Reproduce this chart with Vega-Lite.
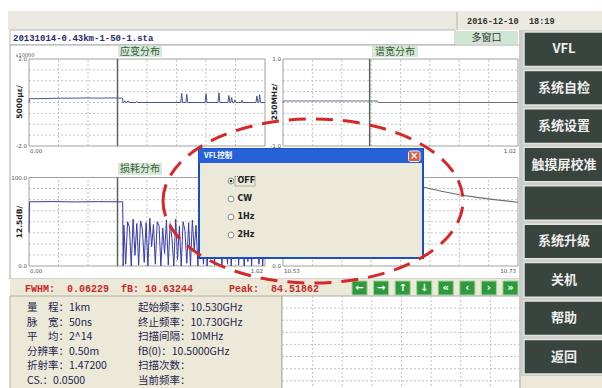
{
"$schema":"https://vega.github.io/schema/vega-lite/v6.json",
"width":602,"height":388,"padding":0,"autosize":{"type":"none"},
"background":"#FFFFFF",
"config":{"view":{"stroke":null},"axis":{"disable":true},"legend":{"disable":true}},
"resolve":{"scale":{"x":"independent","y":"independent"}},
"data":{"values":[{"element":"screen"}]},
"datasets":{
"strain":[{"km":0,"strain":0},{"km":0.002,"strain":0.17},{"km":0.05,"strain":0.18},{"km":0.1,"strain":0.19},{"km":0.15,"strain":0.2},{"km":0.2,"strain":0.2},{"km":0.25,"strain":0.21},{"km":0.3,"strain":0.2},{"km":0.35,"strain":0.21},{"km":0.404,"strain":0.2},{"km":0.406,"strain":0},
{"km":0.41,"strain":0},{"km":0.414,"strain":0.08},{"km":0.418,"strain":0},{"km":0.424,"strain":0},{"km":0.428,"strain":0.08},{"km":0.432,"strain":0},{"km":0.462,"strain":0},{"km":0.466,"strain":0.05},{"km":0.47,"strain":0},
{"km":0.656,"strain":0},{"km":0.66,"strain":0.42},{"km":0.664,"strain":0},{"km":0.678,"strain":0},{"km":0.682,"strain":0.38},{"km":0.686,"strain":0},
{"km":0.761,"strain":0},{"km":0.765,"strain":0.4},{"km":0.769,"strain":0},{"km":0.817,"strain":0},{"km":0.821,"strain":0.45},{"km":0.825,"strain":0},
{"km":0.86,"strain":0},{"km":0.864,"strain":0.32},{"km":0.868,"strain":0},{"km":0.872,"strain":0},{"km":0.876,"strain":0.22},{"km":0.88,"strain":0},{"km":0.886,"strain":0},{"km":0.89,"strain":0.12},{"km":0.894,"strain":0},
{"km":0.917,"strain":0},{"km":0.921,"strain":0.1},{"km":0.925,"strain":0},{"km":0.981,"strain":0},{"km":0.985,"strain":0.3},{"km":0.989,"strain":0},{"km":0.993,"strain":0},{"km":0.997,"strain":0.36},{"km":1.001,"strain":0},{"km":1.02,"strain":0}],
"spectralWidth":[{"km":0,"width":0},{"km":0.002,"width":0.035},{"km":0.41,"width":0.035},{"km":0.413,"width":0},{"km":1.02,"width":0}],
"loss":[{"km":0,"loss":38},{"km":0.002,"loss":72.5},{"km":0.1,"loss":72.8},{"km":0.2,"loss":72.4},{"km":0.3,"loss":72.7},{"km":0.405,"loss":72.5},{"km":0.407,"loss":0},
{"km":0.41,"loss":46},{"km":0.418,"loss":2},{"km":0.426,"loss":50},{"km":0.434,"loss":44},{"km":0.442,"loss":0},{"km":0.45,"loss":53},{"km":0.458,"loss":12},{"km":0.466,"loss":48},{"km":0.474,"loss":1},{"km":0.482,"loss":51},{"km":0.49,"loss":42},{"km":0.498,"loss":4},{"km":0.506,"loss":49},{"km":0.514,"loss":0},{"km":0.522,"loss":54},{"km":0.53,"loss":22},{"km":0.538,"loss":47},{"km":0.546,"loss":2},{"km":0.554,"loss":50},{"km":0.562,"loss":46},{"km":0.57,"loss":0},{"km":0.578,"loss":43},{"km":0.586,"loss":14},{"km":0.594,"loss":52},{"km":0.602,"loss":1},{"km":0.61,"loss":48},{"km":0.618,"loss":31},{"km":0.626,"loss":0},{"km":0.634,"loss":53},{"km":0.642,"loss":7},{"km":0.65,"loss":45},{"km":0.658,"loss":0},{"km":0.666,"loss":50},{"km":0.674,"loss":40},{"km":0.682,"loss":3},{"km":0.69,"loss":49},{"km":0.698,"loss":0},{"km":0.706,"loss":52},{"km":0.714,"loss":18},{"km":0.722,"loss":46},{"km":0.73,"loss":0},{"km":0.738,"loss":51},{"km":0.746,"loss":44},{"km":0.754,"loss":2},{"km":0.762,"loss":48},{"km":0.77,"loss":0},{"km":0.778,"loss":50},{"km":0.786,"loss":26},{"km":0.794,"loss":45},{"km":0.802,"loss":1},{"km":0.81,"loss":52},{"km":0.818,"loss":9},{"km":0.826,"loss":47},{"km":0.834,"loss":0},{"km":0.842,"loss":49},{"km":0.85,"loss":41},{"km":0.858,"loss":2},{"km":0.866,"loss":51},{"km":0.874,"loss":0},{"km":0.882,"loss":46},{"km":0.89,"loss":15},{"km":0.898,"loss":50},{"km":0.906,"loss":1},{"km":0.914,"loss":44},{"km":0.922,"loss":37},{"km":0.93,"loss":0},{"km":0.938,"loss":48},{"km":0.946,"loss":5},{"km":0.954,"loss":52},{"km":0.962,"loss":0},{"km":0.97,"loss":45},{"km":0.978,"loss":20},{"km":0.986,"loss":49},{"km":0.994,"loss":2},{"km":1.002,"loss":47},{"km":1.01,"loss":0},{"km":1.018,"loss":43}],
"spectrum":[{"ghz":10.53,"power":55},{"ghz":10.55,"power":68},{"ghz":10.57,"power":80},{"ghz":10.59,"power":90},{"ghz":10.61,"power":95},{"ghz":10.625,"power":96},{"ghz":10.64,"power":92},{"ghz":10.65,"power":89},{"ghz":10.665,"power":84.5},{"ghz":10.68,"power":80.5},{"ghz":10.695,"power":77.5},{"ghz":10.71,"power":75},{"ghz":10.73,"power":72}],
"div":[{"d":1},{"d":2},{"d":3},{"d":4},{"d":5},{"d":6},{"d":7}],
"buttons":[{"label":"VFL"},{"label":"系统自检"},{"label":"系统设置"},{"label":"触摸屏校准"},{"label":" "},{"label":"系统升级"},{"label":"关机"},{"label":"帮助"},{"label":"返回"}],
"nav":[{"b":"←"},{"b":"→"},{"b":"↑"},{"b":"↓"},{"b":"«"},{"b":"‹"},{"b":"›"},{"b":"»"}],
"params":[{"l":"量　程：1km","r":"起始频率：10.530GHz"},{"l":"脉　宽：50ns","r":"终止频率：10.730GHz"},{"l":"平　均：2^14","r":"扫描间隔：10MHz"},{"l":"分辨率：0.50m","r":"fB(0)：10.5000GHz"},{"l":"折射率：1.47200","r":"扫描次数："},{"l":"CS.：0.0500","r":"当前频率："}],
"vfl":[{"opt":"OFF","on":true},{"opt":"CW","on":false},{"opt":"1Hz","on":false},{"opt":"2Hz","on":false}]
},
"layer":[
{"mark":{"type":"rect","fill":"#ECEAE0"},"encoding":{"x":{"datum":8,"scale":{"domain":[0,602],"range":[0,602],"nice":false,"zero":false}},"x2":{"datum":602},"y":{"datum":11,"scale":{"domain":[0,388],"range":[0,388],"nice":false,"zero":false}},"y2":{"datum":30}}},
{"mark":{"type":"rule","stroke":"#B4B2A8"},"encoding":{"x":{"datum":457,"scale":{"domain":[0,602],"range":[0,602],"nice":false,"zero":false}},"y":{"datum":12,"scale":{"domain":[0,388],"range":[0,388],"nice":false,"zero":false}},"y2":{"datum":30}}},
{"data":{"values":[{"t":"2016-12-10\u00a0\u00a018:19"}]},"mark":{"type":"text","align":"left","baseline":"middle","font":"Liberation Mono","fontSize":8.6,"fontWeight":"bold","fill":"#303030"},"encoding":{"x":{"datum":467,"scale":{"domain":[0,602],"range":[0,602],"nice":false,"zero":false}},"y":{"datum":21,"scale":{"domain":[0,388],"range":[0,388],"nice":false,"zero":false}},"text":{"field":"t"}}},
{"mark":{"type":"rect","fill":"#FFFFFF","stroke":"#B8B8B8"},"encoding":{"x":{"datum":10,"scale":{"domain":[0,602],"range":[0,602],"nice":false,"zero":false}},"x2":{"datum":455},"y":{"datum":30,"scale":{"domain":[0,388],"range":[0,388],"nice":false,"zero":false}},"y2":{"datum":45}}},
{"data":{"values":[{"t":"20131014-0.43km-1-50-1.sta"}]},"mark":{"type":"text","align":"left","baseline":"middle","font":"Liberation Mono","fontSize":9,"fontWeight":"bold","fill":"#2A2A6A"},"encoding":{"x":{"datum":13,"scale":{"domain":[0,602],"range":[0,602],"nice":false,"zero":false}},"y":{"datum":37.5,"scale":{"domain":[0,388],"range":[0,388],"nice":false,"zero":false}},"text":{"field":"t"}}},
{"mark":{"type":"rect","fill":"#CFE6D5"},"encoding":{"x":{"datum":455,"scale":{"domain":[0,602],"range":[0,602],"nice":false,"zero":false}},"x2":{"datum":518},"y":{"datum":31,"scale":{"domain":[0,388],"range":[0,388],"nice":false,"zero":false}},"y2":{"datum":44}}},
{"data":{"values":[{"t":"多窗口"}]},"mark":{"type":"text","align":"center","baseline":"middle","font":"Noto Sans CJK SC","fontSize":10,"fill":"#333333"},"encoding":{"x":{"datum":486.5,"scale":{"domain":[0,602],"range":[0,602],"nice":false,"zero":false}},"y":{"datum":37.5,"scale":{"domain":[0,388],"range":[0,388],"nice":false,"zero":false}},"text":{"field":"t"}}},
{"mark":{"type":"rect","fill":"#FFFFFF","stroke":"#A8A8A8"},"encoding":{"x":{"datum":10,"scale":{"domain":[0,602],"range":[0,602],"nice":false,"zero":false}},"x2":{"datum":520},"y":{"datum":45,"scale":{"domain":[0,388],"range":[0,388],"nice":false,"zero":false}},"y2":{"datum":279}}},

{"mark":{"type":"rect","fill":"#D5EAD7"},"encoding":{"x":{"datum":118,"scale":{"domain":[0,602],"range":[0,602],"nice":false,"zero":false}},"x2":{"datum":162},"y":{"datum":46,"scale":{"domain":[0,388],"range":[0,388],"nice":false,"zero":false}},"y2":{"datum":57}}},
{"data":{"values":[{"t":"应变分布"}]},"mark":{"type":"text","align":"center","baseline":"middle","font":"Noto Sans CJK SC","fontSize":10,"fill":"#3A5A3A"},"encoding":{"x":{"datum":140,"scale":{"domain":[0,602],"range":[0,602],"nice":false,"zero":false}},"y":{"datum":51.5,"scale":{"domain":[0,388],"range":[0,388],"nice":false,"zero":false}},"text":{"field":"t"}}},
{"mark":{"type":"rect","fill":"#D5EAD7"},"encoding":{"x":{"datum":372,"scale":{"domain":[0,602],"range":[0,602],"nice":false,"zero":false}},"x2":{"datum":418},"y":{"datum":46,"scale":{"domain":[0,388],"range":[0,388],"nice":false,"zero":false}},"y2":{"datum":57}}},
{"data":{"values":[{"t":"谱宽分布"}]},"mark":{"type":"text","align":"center","baseline":"middle","font":"Noto Sans CJK SC","fontSize":10,"fill":"#3A5A3A"},"encoding":{"x":{"datum":395,"scale":{"domain":[0,602],"range":[0,602],"nice":false,"zero":false}},"y":{"datum":51.5,"scale":{"domain":[0,388],"range":[0,388],"nice":false,"zero":false}},"text":{"field":"t"}}},
{"mark":{"type":"rect","fill":"#D5EAD7"},"encoding":{"x":{"datum":118,"scale":{"domain":[0,602],"range":[0,602],"nice":false,"zero":false}},"x2":{"datum":162},"y":{"datum":163,"scale":{"domain":[0,388],"range":[0,388],"nice":false,"zero":false}},"y2":{"datum":175}}},
{"data":{"values":[{"t":"损耗分布"}]},"mark":{"type":"text","align":"center","baseline":"middle","font":"Noto Sans CJK SC","fontSize":10,"fill":"#3A5A3A"},"encoding":{"x":{"datum":140,"scale":{"domain":[0,602],"range":[0,602],"nice":false,"zero":false}},"y":{"datum":169,"scale":{"domain":[0,388],"range":[0,388],"nice":false,"zero":false}},"text":{"field":"t"}}},

{"data":{"name":"div"},"mark":{"type":"rule","stroke":"#C4C4C4","strokeDash":[2,2]},"encoding":{"x":{"field":"d","type":"quantitative","scale":{"domain":[0,8],"range":[29,265],"nice":false,"zero":false}},"y":{"datum":0,"scale":{"domain":[0,8],"range":[146,59],"nice":false,"zero":false}},"y2":{"datum":8}}},
{"data":{"name":"div"},"mark":{"type":"rule","stroke":"#C4C4C4","strokeDash":[2,2]},"encoding":{"y":{"field":"d","type":"quantitative","scale":{"domain":[0,8],"range":[146,59],"nice":false,"zero":false}},"x":{"datum":0,"scale":{"domain":[0,8],"range":[29,265],"nice":false,"zero":false}},"x2":{"datum":8}}},
{"mark":{"type":"rect","fillOpacity":0,"stroke":"#A0A0A0"},"encoding":{"x":{"datum":0,"scale":{"domain":[0,8],"range":[29,265],"nice":false,"zero":false}},"x2":{"datum":8},"y":{"datum":0,"scale":{"domain":[0,8],"range":[146,59],"nice":false,"zero":false}},"y2":{"datum":8}}},
{"mark":{"type":"rule","stroke":"#5A665A","strokeWidth":1.5},"encoding":{"x":{"datum":3,"scale":{"domain":[0,8],"range":[29,265],"nice":false,"zero":false}},"y":{"datum":0,"scale":{"domain":[0,8],"range":[146,59],"nice":false,"zero":false}},"y2":{"datum":8}}},
{"data":{"name":"strain"},"mark":{"type":"line","stroke":"#4A5590","strokeWidth":1},"encoding":{"x":{"field":"km","type":"quantitative","scale":{"domain":[0,1.02],"range":[29,265],"nice":false,"zero":false}},"y":{"field":"strain","type":"quantitative","scale":{"domain":[-2,2],"range":[146,59],"nice":false,"zero":false}}}},
{"data":{"values":[{"v":2,"t":"2.0"},{"v":-2,"t":"-2.0"}]},"mark":{"type":"text","align":"right","baseline":"middle","dx":-2,"font":"DejaVu Sans","fontSize":5.5,"fill":"#505050"},"encoding":{"x":{"datum":0,"scale":{"domain":[0,1.02],"range":[29,265],"nice":false,"zero":false}},"y":{"field":"v","type":"quantitative","scale":{"domain":[-2,2],"range":[146,59],"nice":false,"zero":false}},"text":{"field":"t"}}},
{"data":{"values":[{"km":0,"t":"0.00"}]},"mark":{"type":"text","align":"left","baseline":"top","dx":1,"dy":3,"font":"DejaVu Sans","fontSize":5.5,"fill":"#505050"},"encoding":{"x":{"field":"km","type":"quantitative","scale":{"domain":[0,1.02],"range":[29,265],"nice":false,"zero":false}},"y":{"datum":-2,"scale":{"domain":[-2,2],"range":[146,59],"nice":false,"zero":false}},"text":{"field":"t"}}},
{"data":{"values":[{"km":1.02,"t":"1.02"}]},"mark":{"type":"text","align":"right","baseline":"top","dx":-2,"dy":3,"font":"DejaVu Sans","fontSize":5.5,"fill":"#505050"},"encoding":{"x":{"field":"km","type":"quantitative","scale":{"domain":[0,1.02],"range":[29,265],"nice":false,"zero":false}},"y":{"datum":-2,"scale":{"domain":[-2,2],"range":[146,59],"nice":false,"zero":false}},"text":{"field":"t"}}},
{"data":{"values":[{"t":"5000με/"}]},"mark":{"type":"text","align":"center","baseline":"middle","angle":270,"font":"DejaVu Sans","fontSize":7.5,"fontWeight":"bold","fill":"#202020"},"encoding":{"x":{"datum":20,"scale":{"domain":[0,602],"range":[0,602],"nice":false,"zero":false}},"y":{"datum":102,"scale":{"domain":[0,388],"range":[0,388],"nice":false,"zero":false}},"text":{"field":"t"}}},
{"data":{"values":[{"t":"x10000"}]},"mark":{"type":"text","align":"center","baseline":"middle","font":"DejaVu Sans","fontSize":5,"fill":"#505050"},"encoding":{"x":{"datum":25,"scale":{"domain":[0,602],"range":[0,602],"nice":false,"zero":false}},"y":{"datum":54.5,"scale":{"domain":[0,388],"range":[0,388],"nice":false,"zero":false}},"text":{"field":"t"}}},

{"data":{"name":"div"},"mark":{"type":"rule","stroke":"#C4C4C4","strokeDash":[2,2]},"encoding":{"x":{"field":"d","type":"quantitative","scale":{"domain":[0,8],"range":[283,518],"nice":false,"zero":false}},"y":{"datum":0,"scale":{"domain":[0,8],"range":[146,59],"nice":false,"zero":false}},"y2":{"datum":8}}},
{"data":{"name":"div"},"mark":{"type":"rule","stroke":"#C4C4C4","strokeDash":[2,2]},"encoding":{"y":{"field":"d","type":"quantitative","scale":{"domain":[0,8],"range":[146,59],"nice":false,"zero":false}},"x":{"datum":0,"scale":{"domain":[0,8],"range":[283,518],"nice":false,"zero":false}},"x2":{"datum":8}}},
{"mark":{"type":"rect","fillOpacity":0,"stroke":"#A0A0A0"},"encoding":{"x":{"datum":0,"scale":{"domain":[0,8],"range":[283,518],"nice":false,"zero":false}},"x2":{"datum":8},"y":{"datum":0,"scale":{"domain":[0,8],"range":[146,59],"nice":false,"zero":false}},"y2":{"datum":8}}},
{"mark":{"type":"rule","stroke":"#5A665A","strokeWidth":1.5},"encoding":{"x":{"datum":2.95,"scale":{"domain":[0,8],"range":[283,518],"nice":false,"zero":false}},"y":{"datum":0,"scale":{"domain":[0,8],"range":[146,59],"nice":false,"zero":false}},"y2":{"datum":8}}},
{"data":{"name":"spectralWidth"},"mark":{"type":"line","stroke":"#6A7088","strokeWidth":1},"encoding":{"x":{"field":"km","type":"quantitative","scale":{"domain":[0,1.02],"range":[283,518],"nice":false,"zero":false}},"y":{"field":"width","type":"quantitative","scale":{"domain":[-1,1],"range":[146,59],"nice":false,"zero":false}}}},
{"data":{"values":[{"v":1,"t":"1.0"},{"v":-1,"t":"-1.0"}]},"mark":{"type":"text","align":"right","baseline":"middle","dx":-2,"font":"DejaVu Sans","fontSize":5.5,"fill":"#505050"},"encoding":{"x":{"datum":0,"scale":{"domain":[0,1.02],"range":[283,518],"nice":false,"zero":false}},"y":{"field":"v","type":"quantitative","scale":{"domain":[-1,1],"range":[146,59],"nice":false,"zero":false}},"text":{"field":"t"}}},
{"data":{"values":[{"km":0,"t":"0.00"}]},"mark":{"type":"text","align":"left","baseline":"top","dx":1,"dy":3,"font":"DejaVu Sans","fontSize":5.5,"fill":"#505050"},"encoding":{"x":{"field":"km","type":"quantitative","scale":{"domain":[0,1.02],"range":[283,518],"nice":false,"zero":false}},"y":{"datum":-1,"scale":{"domain":[-1,1],"range":[146,59],"nice":false,"zero":false}},"text":{"field":"t"}}},
{"data":{"values":[{"km":1.02,"t":"1.02"}]},"mark":{"type":"text","align":"right","baseline":"top","dx":-2,"dy":3,"font":"DejaVu Sans","fontSize":5.5,"fill":"#505050"},"encoding":{"x":{"field":"km","type":"quantitative","scale":{"domain":[0,1.02],"range":[283,518],"nice":false,"zero":false}},"y":{"datum":-1,"scale":{"domain":[-1,1],"range":[146,59],"nice":false,"zero":false}},"text":{"field":"t"}}},
{"data":{"values":[{"t":"250MHz/"}]},"mark":{"type":"text","align":"center","baseline":"middle","angle":270,"font":"DejaVu Sans","fontSize":7.5,"fontWeight":"bold","fill":"#202020"},"encoding":{"x":{"datum":275,"scale":{"domain":[0,602],"range":[0,602],"nice":false,"zero":false}},"y":{"datum":102,"scale":{"domain":[0,388],"range":[0,388],"nice":false,"zero":false}},"text":{"field":"t"}}},

{"data":{"name":"div"},"mark":{"type":"rule","stroke":"#C4C4C4","strokeDash":[2,2]},"encoding":{"x":{"field":"d","type":"quantitative","scale":{"domain":[0,8],"range":[29,265],"nice":false,"zero":false}},"y":{"datum":0,"scale":{"domain":[0,8],"range":[266,177.5],"nice":false,"zero":false}},"y2":{"datum":8}}},
{"data":{"name":"div"},"mark":{"type":"rule","stroke":"#C4C4C4","strokeDash":[2,2]},"encoding":{"y":{"field":"d","type":"quantitative","scale":{"domain":[0,8],"range":[266,177.5],"nice":false,"zero":false}},"x":{"datum":0,"scale":{"domain":[0,8],"range":[29,265],"nice":false,"zero":false}},"x2":{"datum":8}}},
{"mark":{"type":"rect","fillOpacity":0,"stroke":"#A0A0A0"},"encoding":{"x":{"datum":0,"scale":{"domain":[0,8],"range":[29,265],"nice":false,"zero":false}},"x2":{"datum":8},"y":{"datum":0,"scale":{"domain":[0,8],"range":[266,177.5],"nice":false,"zero":false}},"y2":{"datum":8}}},
{"mark":{"type":"rule","stroke":"#5A665A","strokeWidth":1.5},"encoding":{"x":{"datum":3,"scale":{"domain":[0,8],"range":[29,265],"nice":false,"zero":false}},"y":{"datum":0,"scale":{"domain":[0,8],"range":[266,177.5],"nice":false,"zero":false}},"y2":{"datum":8}}},
{"data":{"name":"loss"},"mark":{"type":"line","stroke":"#3838A8","strokeWidth":1},"encoding":{"x":{"field":"km","type":"quantitative","scale":{"domain":[0,1.02],"range":[29,265],"nice":false,"zero":false}},"y":{"field":"loss","type":"quantitative","scale":{"domain":[0,100],"range":[266,177.5],"nice":false,"zero":false}}}},
{"data":{"values":[{"v":100,"t":"100.0"},{"v":0,"t":"0.0"}]},"mark":{"type":"text","align":"right","baseline":"middle","dx":-2,"font":"DejaVu Sans","fontSize":5.5,"fill":"#505050"},"encoding":{"x":{"datum":0,"scale":{"domain":[0,1.02],"range":[29,265],"nice":false,"zero":false}},"y":{"field":"v","type":"quantitative","scale":{"domain":[0,100],"range":[266,177.5],"nice":false,"zero":false}},"text":{"field":"t"}}},
{"data":{"values":[{"km":0,"t":"0.00"}]},"mark":{"type":"text","align":"left","baseline":"top","dx":1,"dy":3,"font":"DejaVu Sans","fontSize":5.5,"fill":"#505050"},"encoding":{"x":{"field":"km","type":"quantitative","scale":{"domain":[0,1.02],"range":[29,265],"nice":false,"zero":false}},"y":{"datum":0,"scale":{"domain":[0,100],"range":[266,177.5],"nice":false,"zero":false}},"text":{"field":"t"}}},
{"data":{"values":[{"km":1.02,"t":"1.02"}]},"mark":{"type":"text","align":"right","baseline":"top","dx":-2,"dy":3,"font":"DejaVu Sans","fontSize":5.5,"fill":"#505050"},"encoding":{"x":{"field":"km","type":"quantitative","scale":{"domain":[0,1.02],"range":[29,265],"nice":false,"zero":false}},"y":{"datum":0,"scale":{"domain":[0,100],"range":[266,177.5],"nice":false,"zero":false}},"text":{"field":"t"}}},
{"data":{"values":[{"t":"12.5dB/"}]},"mark":{"type":"text","align":"center","baseline":"middle","angle":270,"font":"DejaVu Sans","fontSize":7.5,"fontWeight":"bold","fill":"#202020"},"encoding":{"x":{"datum":20,"scale":{"domain":[0,602],"range":[0,602],"nice":false,"zero":false}},"y":{"datum":222,"scale":{"domain":[0,388],"range":[0,388],"nice":false,"zero":false}},"text":{"field":"t"}}},

{"data":{"name":"div"},"mark":{"type":"rule","stroke":"#C4C4C4","strokeDash":[2,2]},"encoding":{"x":{"field":"d","type":"quantitative","scale":{"domain":[0,8],"range":[283,518],"nice":false,"zero":false}},"y":{"datum":0,"scale":{"domain":[0,8],"range":[266,177.5],"nice":false,"zero":false}},"y2":{"datum":8}}},
{"data":{"name":"div"},"mark":{"type":"rule","stroke":"#C4C4C4","strokeDash":[2,2]},"encoding":{"y":{"field":"d","type":"quantitative","scale":{"domain":[0,8],"range":[266,177.5],"nice":false,"zero":false}},"x":{"datum":0,"scale":{"domain":[0,8],"range":[283,518],"nice":false,"zero":false}},"x2":{"datum":8}}},
{"mark":{"type":"rect","fillOpacity":0,"stroke":"#A0A0A0"},"encoding":{"x":{"datum":0,"scale":{"domain":[0,8],"range":[283,518],"nice":false,"zero":false}},"x2":{"datum":8},"y":{"datum":0,"scale":{"domain":[0,8],"range":[266,177.5],"nice":false,"zero":false}},"y2":{"datum":8}}},
{"data":{"name":"spectrum"},"mark":{"type":"line","stroke":"#6E6E6E","strokeWidth":1.1},"encoding":{"x":{"field":"ghz","type":"quantitative","scale":{"domain":[10.53,10.73],"range":[283,518],"nice":false,"zero":false}},"y":{"field":"power","type":"quantitative","scale":{"domain":[0,100],"range":[266,177.5],"nice":false,"zero":false}}}},
{"data":{"values":[{"v":100,"t":"100.0"},{"v":0,"t":"0.0"}]},"mark":{"type":"text","align":"right","baseline":"middle","dx":-2,"font":"DejaVu Sans","fontSize":5.5,"fill":"#505050"},"encoding":{"x":{"datum":10.53,"scale":{"domain":[10.53,10.73],"range":[283,518],"nice":false,"zero":false}},"y":{"field":"v","type":"quantitative","scale":{"domain":[0,100],"range":[266,177.5],"nice":false,"zero":false}},"text":{"field":"t"}}},
{"data":{"values":[{"ghz":10.53,"t":"10.53"}]},"mark":{"type":"text","align":"left","baseline":"top","dx":1,"dy":3,"font":"DejaVu Sans","fontSize":5.5,"fill":"#505050"},"encoding":{"x":{"field":"ghz","type":"quantitative","scale":{"domain":[10.53,10.73],"range":[283,518],"nice":false,"zero":false}},"y":{"datum":0,"scale":{"domain":[0,100],"range":[266,177.5],"nice":false,"zero":false}},"text":{"field":"t"}}},
{"data":{"values":[{"ghz":10.73,"t":"10.73"}]},"mark":{"type":"text","align":"right","baseline":"top","dx":-2,"dy":3,"font":"DejaVu Sans","fontSize":5.5,"fill":"#505050"},"encoding":{"x":{"field":"ghz","type":"quantitative","scale":{"domain":[10.53,10.73],"range":[283,518],"nice":false,"zero":false}},"y":{"datum":0,"scale":{"domain":[0,100],"range":[266,177.5],"nice":false,"zero":false}},"text":{"field":"t"}}},

{"mark":{"type":"rect","fill":"#ECE9D8"},"encoding":{"x":{"datum":10,"scale":{"domain":[0,602],"range":[0,602],"nice":false,"zero":false}},"x2":{"datum":520},"y":{"datum":279,"scale":{"domain":[0,388],"range":[0,388],"nice":false,"zero":false}},"y2":{"datum":296}}},
{"data":{"values":[{"t":"FWHM:\u00a0\u00a00.06229\u00a0\u00a0fB:\u00a010.63244\u00a0\u00a0\u00a0\u00a0\u00a0\u00a0Peak:\u00a0\u00a084.51862"}]},"mark":{"type":"text","align":"left","baseline":"middle","font":"Liberation Mono","fontSize":10,"fontWeight":"bold","fill":"#C42C2C"},"encoding":{"x":{"datum":25,"scale":{"domain":[0,602],"range":[0,602],"nice":false,"zero":false}},"y":{"datum":288.5,"scale":{"domain":[0,388],"range":[0,388],"nice":false,"zero":false}},"text":{"field":"t"}}},
{"data":{"name":"nav"},"mark":{"type":"rect","fill":"#2E9A3C","stroke":"#9FD39F","strokeWidth":1},"encoding":{"x":{"field":"b","type":"nominal","scale":{"type":"band","domain":["←","→","↑","↓","«","‹","›","»"],"range":[352,518],"paddingInner":0.3,"paddingOuter":0}},"y":{"datum":281,"scale":{"domain":[0,388],"range":[0,388],"nice":false,"zero":false}},"y2":{"datum":295}}},
{"data":{"name":"nav"},"mark":{"type":"text","align":"center","baseline":"middle","font":"DejaVu Sans","fontSize":10,"fontWeight":"bold","fill":"#FFFFFF"},"encoding":{"x":{"field":"b","type":"nominal","bandPosition":0.5,"scale":{"type":"band","domain":["←","→","↑","↓","«","‹","›","»"],"range":[352,518],"paddingInner":0.3,"paddingOuter":0}},"y":{"datum":288,"scale":{"domain":[0,388],"range":[0,388],"nice":false,"zero":false}},"text":{"field":"b"}}},

{"mark":{"type":"rect","fill":"#ECE9D8","stroke":"#B4B2A4"},"encoding":{"x":{"datum":10,"scale":{"domain":[0,602],"range":[0,602],"nice":false,"zero":false}},"x2":{"datum":282},"y":{"datum":296,"scale":{"domain":[0,388],"range":[0,388],"nice":false,"zero":false}},"y2":{"datum":390}}},
{"data":{"name":"params"},"mark":{"type":"text","align":"left","baseline":"middle","font":"Noto Sans CJK SC","fontSize":10.5,"fill":"#1E1E50"},"encoding":{"x":{"datum":27,"scale":{"domain":[0,602],"range":[0,602],"nice":false,"zero":false}},"y":{"field":"l","type":"nominal","scale":{"type":"point","domain":["量　程：1km","脉　宽：50ns","平　均：2^14","分辨率：0.50m","折射率：1.47200","CS.：0.0500"],"range":[308,381],"padding":0}},"text":{"field":"l"}}},
{"data":{"name":"params"},"mark":{"type":"text","align":"left","baseline":"middle","font":"Noto Sans CJK SC","fontSize":10.5,"fill":"#1E1E50"},"encoding":{"x":{"datum":138,"scale":{"domain":[0,602],"range":[0,602],"nice":false,"zero":false}},"y":{"field":"l","type":"nominal","scale":{"type":"point","domain":["量　程：1km","脉　宽：50ns","平　均：2^14","分辨率：0.50m","折射率：1.47200","CS.：0.0500"],"range":[308,381],"padding":0}},"text":{"field":"r"}}},

{"mark":{"type":"rect","fill":"#FFFFFF","stroke":"#A8A8A8"},"encoding":{"x":{"datum":282,"scale":{"domain":[0,602],"range":[0,602],"nice":false,"zero":false}},"x2":{"datum":520},"y":{"datum":296,"scale":{"domain":[0,388],"range":[0,388],"nice":false,"zero":false}},"y2":{"datum":390}}},
{"data":{"name":"div"},"mark":{"type":"rule","stroke":"#C4C4C4","strokeDash":[2,2]},"encoding":{"x":{"field":"d","type":"quantitative","scale":{"domain":[0,8],"range":[283,520],"nice":false,"zero":false}},"y":{"datum":296,"scale":{"domain":[0,388],"range":[0,388],"nice":false,"zero":false}},"y2":{"datum":388}}},
{"data":{"name":"div"},"mark":{"type":"rule","stroke":"#C4C4C4","strokeDash":[2,2]},"encoding":{"y":{"field":"d","type":"quantitative","scale":{"domain":[0,7.6],"range":[296,388],"nice":false,"zero":false}},"x":{"datum":282,"scale":{"domain":[0,602],"range":[0,602],"nice":false,"zero":false}},"x2":{"datum":520}}},

{"mark":{"type":"rect","fill":"#CBCDCB"},"encoding":{"x":{"datum":519,"scale":{"domain":[0,602],"range":[0,602],"nice":false,"zero":false}},"x2":{"datum":602},"y":{"datum":30,"scale":{"domain":[0,388],"range":[0,388],"nice":false,"zero":false}},"y2":{"datum":388}}},
{"data":{"name":"buttons"},"mark":{"type":"rect","fill":"#39443F","stroke":"#E2E4E2","strokeWidth":1.5},"encoding":{"y":{"field":"label","type":"nominal","scale":{"type":"band","domain":["VFL","系统自检","系统设置","触摸屏校准"," ","系统升级","关机","帮助","返回"],"range":[32,374],"paddingInner":0.1,"paddingOuter":0}},"x":{"datum":524,"scale":{"domain":[0,602],"range":[0,602],"nice":false,"zero":false}},"x2":{"datum":604}}},
{"data":{"name":"buttons"},"mark":{"type":"text","align":"center","baseline":"middle","font":"Noto Sans CJK SC","fontSize":13,"fontWeight":"bold","fill":"#EEEEEE"},"encoding":{"y":{"field":"label","type":"nominal","bandPosition":0.5,"scale":{"type":"band","domain":["VFL","系统自检","系统设置","触摸屏校准"," ","系统升级","关机","帮助","返回"],"range":[32,374],"paddingInner":0.1,"paddingOuter":0}},"x":{"datum":564,"scale":{"domain":[0,602],"range":[0,602],"nice":false,"zero":false}},"text":{"field":"label"}}},
{"mark":{"type":"rect","fill":"#ECE9D8"},"encoding":{"x":{"datum":521,"scale":{"domain":[0,602],"range":[0,602],"nice":false,"zero":false}},"x2":{"datum":602},"y":{"datum":376,"scale":{"domain":[0,388],"range":[0,388],"nice":false,"zero":false}},"y2":{"datum":388}}},

{"mark":{"type":"rect","fill":"#ECE9D8","stroke":"#1B4FC4","strokeWidth":2},"encoding":{"x":{"datum":199,"scale":{"domain":[0,602],"range":[0,602],"nice":false,"zero":false}},"x2":{"datum":423},"y":{"datum":149,"scale":{"domain":[0,388],"range":[0,388],"nice":false,"zero":false}},"y2":{"datum":258}}},
{"mark":{"type":"rect","fill":"#2562D8"},"encoding":{"x":{"datum":199,"scale":{"domain":[0,602],"range":[0,602],"nice":false,"zero":false}},"x2":{"datum":423},"y":{"datum":149,"scale":{"domain":[0,388],"range":[0,388],"nice":false,"zero":false}},"y2":{"datum":163}}},
{"data":{"values":[{"t":"VFL控制"}]},"mark":{"type":"text","align":"left","baseline":"middle","font":"Noto Sans CJK SC","fontSize":7.5,"fontWeight":"bold","fill":"#FFFFFF"},"encoding":{"x":{"datum":204,"scale":{"domain":[0,602],"range":[0,602],"nice":false,"zero":false}},"y":{"datum":156,"scale":{"domain":[0,388],"range":[0,388],"nice":false,"zero":false}},"text":{"field":"t"}}},
{"mark":{"type":"rect","fill":"#D8603C","stroke":"#F2F2F2","strokeWidth":1,"cornerRadius":2},"encoding":{"x":{"datum":408.5,"scale":{"domain":[0,602],"range":[0,602],"nice":false,"zero":false}},"x2":{"datum":420},"y":{"datum":151,"scale":{"domain":[0,388],"range":[0,388],"nice":false,"zero":false}},"y2":{"datum":161.5}}},
{"data":{"values":[{"t":"×"}]},"mark":{"type":"text","align":"center","baseline":"middle","font":"DejaVu Sans","fontSize":10,"fontWeight":"bold","fill":"#FFFFFF"},"encoding":{"x":{"datum":414.3,"scale":{"domain":[0,602],"range":[0,602],"nice":false,"zero":false}},"y":{"datum":156,"scale":{"domain":[0,388],"range":[0,388],"nice":false,"zero":false}},"text":{"field":"t"}}},
{"mark":{"type":"rect","fillOpacity":0,"stroke":"#555555","strokeWidth":0.8,"strokeDash":[1,1]},"encoding":{"x":{"datum":235,"scale":{"domain":[0,602],"range":[0,602],"nice":false,"zero":false}},"x2":{"datum":255},"y":{"datum":176.5,"scale":{"domain":[0,388],"range":[0,388],"nice":false,"zero":false}},"y2":{"datum":186}}},
{"data":{"name":"vfl"},"mark":{"type":"point","shape":"circle","size":34,"filled":true,"fill":"#FFFFFF","stroke":"#8A8A8A","strokeWidth":1,"opacity":1},"encoding":{"x":{"datum":231,"scale":{"domain":[0,602],"range":[0,602],"nice":false,"zero":false}},"y":{"field":"opt","type":"nominal","scale":{"type":"point","domain":["OFF","CW","1Hz","2Hz"],"range":[181,235],"padding":0}}}},
{"data":{"name":"vfl"},"transform":[{"filter":"datum.on"}],"mark":{"type":"point","shape":"circle","size":7,"filled":true,"fill":"#222222","opacity":1},"encoding":{"x":{"datum":231,"scale":{"domain":[0,602],"range":[0,602],"nice":false,"zero":false}},"y":{"field":"opt","type":"nominal","scale":{"type":"point","domain":["OFF","CW","1Hz","2Hz"],"range":[181,235],"padding":0}}}},
{"data":{"name":"vfl"},"mark":{"type":"text","align":"left","baseline":"middle","font":"DejaVu Sans","fontSize":8,"fontWeight":"bold","fill":"#222222"},"encoding":{"x":{"datum":237.5,"scale":{"domain":[0,602],"range":[0,602],"nice":false,"zero":false}},"y":{"field":"opt","type":"nominal","scale":{"type":"point","domain":["OFF","CW","1Hz","2Hz"],"range":[181,235],"padding":0}},"text":{"field":"opt"}}},

{"mark":{"type":"point","shape":"M-1,0A1,0.547,0,1,1,1,0A1,0.547,0,1,1,-1,0Z","size":90000,"filled":false,"fill":null,"stroke":"#D62828","strokeWidth":3,"strokeDash":[17,10],"opacity":1},"encoding":{"x":{"datum":313,"scale":{"domain":[0,602],"range":[0,602],"nice":false,"zero":false}},"y":{"datum":201,"scale":{"domain":[0,388],"range":[0,388],"nice":false,"zero":false}}}}
]
}
